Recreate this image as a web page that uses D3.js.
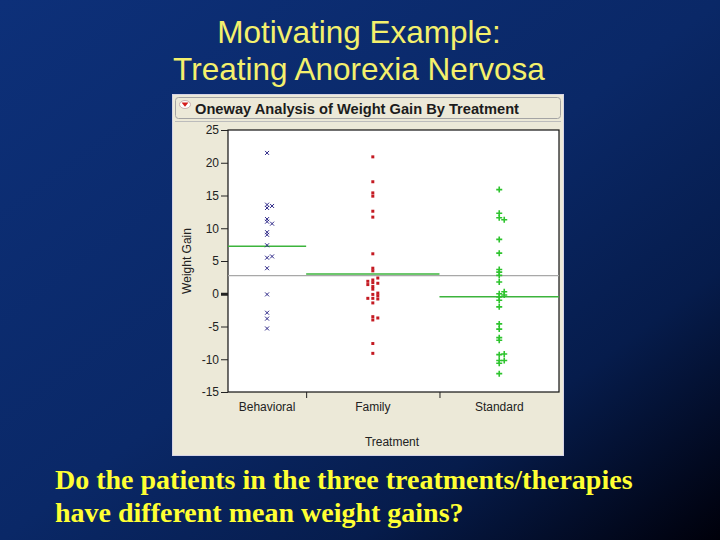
<!DOCTYPE html>
<html>
<head>
<meta charset="utf-8">
<script src="https://cdn.jsdelivr.net/npm/d3@7"></script>
<style>
  body { margin: 0; background: #000; }
  svg { display: block; }
</style>
</head>
<body>
<script>
// weight gain (lbs) per patient
var treatments = ["Behavioral", "Family", "Standard"];
var behavioralGain = [11.4, 11.0, 5.5, 9.4, 13.6, -2.9, -0.1, 7.4, 21.5, -5.3, -3.8, 13.4, 13.1, 9.0, 3.9, 5.7, 10.7];
var familyGain = [1.7, 0.7, -0.1, -0.7, -3.5, 14.9, 3.5, 17.1, -7.6, 1.6, 11.7, 6.1, 1.1, -4.0, 20.9, -9.1,
	2.1, -1.4, 1.4, -0.3, -3.7, -0.8, 2.4, 12.6, 1.9, 3.9, 0.1, 15.4, -0.7];
var standardGain = [-0.5, -9.3, -5.4, 12.3, -2.0, -10.2, -12.2, 11.6, -7.1, 6.2, -0.2, -9.2, 8.3, 3.3, 11.3, 0.0,
	-1.0, -10.6, -4.6, -6.7, 2.8, 0.3, 1.8, 3.7, 15.9, -10.2];
var yTicks = [-15, -10, -5, 0, 5, 10, 15, 20, 25];

var groups = [behavioralGain, familyGain, standardGain];
var W = 720, H = 540;

var svg = d3.select("body").append("svg")
	.attr("width", W)
	.attr("height", H);

// slide background
var grad = svg.append("defs").append("linearGradient")
	.attr("id", "bg")
	.attr("x1", "0%").attr("y1", "0%")
	.attr("x2", "100%").attr("y2", "100%");
grad.append("stop").attr("offset", 0).attr("stop-color", "#0d3079");
grad.append("stop").attr("offset", 0.5).attr("stop-color", "#0a2867");
grad.append("stop").attr("offset", 0.75).attr("stop-color", "#061c4c");
grad.append("stop").attr("offset", 1).attr("stop-color", "#00000a");
svg.append("rect").attr("width", W).attr("height", H).attr("fill", "url(#bg)");

// slide title
svg.append("g")
	.attr("font-family", "'Liberation Sans', Arial, sans-serif")
	.attr("font-size", 31.5)
	.attr("fill", "#f4f06c")
	.attr("text-anchor", "middle")
	.selectAll("text")
	.data(["Motivating Example:", "Treating Anorexia Nervosa"])
	.join("text")
		.attr("x", 359)
		.attr("y", function(d, i) { return 43 + i * 37; })
		.text(function(d) { return d; });

// JMP report panel
svg.append("rect")
	.attr("x", 172.5).attr("y", 94.5)
	.attr("width", 391).attr("height", 361)
	.attr("fill", "#ece9d8")
	.attr("stroke", "#d6d4e6");

svg.append("rect")
	.attr("x", 175.5).attr("y", 97.5)
	.attr("width", 385).attr("height", 21)
	.attr("rx", 3)
	.attr("fill", "#ece9d8")
	.attr("stroke", "#a4a4a4");
svg.append("line")
	.attr("x1", 175).attr("x2", 561)
	.attr("y1", 121.5).attr("y2", 121.5)
	.attr("stroke", "#bcbcbc");

// disclosure icon
svg.append("ellipse")
	.attr("cx", 185).attr("cy", 104.5)
	.attr("rx", 5.5).attr("ry", 4)
	.attr("fill", "#fff")
	.attr("stroke", "#c9b0b0");
svg.append("path")
	.attr("d", "M181.5,102.5L188.5,102.5L185,106.8Z")
	.attr("fill", "#d41c1c");

svg.append("text")
	.attr("x", 195).attr("y", 113.5)
	.attr("font-family", "'Liberation Sans', Arial, sans-serif")
	.attr("font-size", 14)
	.attr("font-weight", "bold")
	.attr("fill", "#1c1c1c")
	.attr("textLength", 324)
	.attr("lengthAdjust", "spacingAndGlyphs")
	.text("Oneway Analysis of Weight Gain By Treatment");

// plot area
var plotLeft = 228, plotRight = 559, plotTop = 130, plotBottom = 392;
var counts = groups.map(function(g) { return g.length; });
var total = d3.sum(counts);
var starts = [0];
counts.forEach(function(c, i) { starts.push(starts[i] + c); });

var x = d3.scaleLinear().domain([0, total]).range([plotLeft, plotRight]);
var y = d3.scaleLinear().domain([-15, 25]).range([plotBottom, plotTop]);

svg.append("rect")
	.attr("x", plotLeft).attr("y", plotTop)
	.attr("width", plotRight - plotLeft).attr("height", plotBottom - plotTop)
	.attr("fill", "#fff")
	.attr("stroke", "#111")
	.attr("stroke-width", 1.2);

var yAxis = svg.append("g")
	.attr("transform", "translate(" + plotLeft + ",0)")
	.call(d3.axisLeft(y).tickValues(yTicks).tickSize(7).tickPadding(2)
		.tickFormat(function(d) { return String(d); }));
yAxis.select(".domain").remove();
yAxis.selectAll(".tick line").attr("stroke", "#222");
yAxis.selectAll(".tick").filter(function(d) { return d === 0; })
	.select("line").attr("stroke-width", 3);
yAxis.selectAll("text")
	.attr("font-family", "'Liberation Sans', Arial, sans-serif")
	.attr("font-size", 12)
	.attr("fill", "#222");

var xAxis = svg.append("g")
	.attr("transform", "translate(0," + plotBottom + ")")
	.call(d3.axisBottom(x).tickValues(starts.slice(1, -1)).tickSize(6).tickFormat(""));
xAxis.select(".domain").remove();
xAxis.selectAll(".tick line").attr("stroke", "#222");

svg.append("g")
	.attr("font-family", "'Liberation Sans', Arial, sans-serif")
	.attr("font-size", 12)
	.attr("fill", "#222")
	.attr("text-anchor", "middle")
	.selectAll("text")
	.data(treatments)
	.join("text")
		.attr("x", function(d, i) { return x(starts[i] + counts[i] / 2); })
		.attr("y", 411)
		.text(function(d) { return d; });

svg.append("text")
	.attr("x", 392).attr("y", 446)
	.attr("font-family", "'Liberation Sans', Arial, sans-serif")
	.attr("font-size", 12)
	.attr("fill", "#222")
	.attr("text-anchor", "middle")
	.text("Treatment");

svg.append("text")
	.attr("transform", "translate(191,261) rotate(-90)")
	.attr("font-family", "'Liberation Sans', Arial, sans-serif")
	.attr("font-size", 12)
	.attr("fill", "#222")
	.attr("text-anchor", "middle")
	.text("Weight Gain");

// grand mean and group means
var grandMean = d3.mean(d3.merge(groups));
svg.append("line")
	.attr("x1", plotLeft).attr("x2", plotRight)
	.attr("y1", y(grandMean)).attr("y2", y(grandMean))
	.attr("stroke", "#a8a8a8")
	.attr("stroke-width", 1.2);

svg.append("g").selectAll("line")
	.data(groups)
	.join("line")
		.attr("x1", function(d, i) { return x(starts[i]); })
		.attr("x2", function(d, i) { return x(starts[i + 1]); })
		.attr("y1", function(d) { return y(d3.mean(d)); })
		.attr("y2", function(d) { return y(d3.mean(d)); })
		.attr("stroke", "#3cb43c")
		.attr("stroke-width", 1.5);

// simple dodge so tied values do not hide each other
function dodge(values, step, gap) {
	var lanes = [0, 1, -1, 2, -2];
	var placed = [];
	return values.map(function(v) {
		var py = y(v);
		for (var k = 0; k < lanes.length; k++) {
			var hit = placed.some(function(p) { return p.lane === lanes[k] && Math.abs(p.py - py) < gap; });
			if (!hit) break;
		}
		var lane = lanes[Math.min(k, lanes.length - 1)];
		placed.push({ lane: lane, py: py });
		return { value: v, dx: lane * step };
	});
}

var markers = [
	{ d: "M-2,-2L2,2M-2,2L2,-2", stroke: "#2e2888", width: 1, fill: "none" },
	{ d: "M-1.5,-1.5H1.5V1.5H-1.5Z", stroke: "none", width: 0, fill: "#c41a22" },
	{ d: "M-3,0H3M0,-3V3", stroke: "#2ec42e", width: 1.6, fill: "none" }
];

groups.forEach(function(g, i) {
	var cx = x(starts[i] + counts[i] / 2);
	var m = markers[i];
	svg.append("g").selectAll("path")
		.data(dodge(g, 5, 2))
		.join("path")
			.attr("transform", function(p) { return "translate(" + (cx + p.dx) + "," + y(p.value) + ")"; })
			.attr("d", m.d)
			.attr("fill", m.fill)
			.attr("stroke", m.stroke)
			.attr("stroke-width", m.width);
});

// question under the chart
svg.append("g")
	.attr("font-family", "'Liberation Serif', 'Times New Roman', serif")
	.attr("font-size", 28)
	.attr("font-weight", "bold")
	.attr("fill", "#ffff33")
	.selectAll("text")
	.data(["Do the patients in the three treatments/therapies", "have different mean weight gains?"])
	.join("text")
		.attr("x", 55)
		.attr("y", function(d, i) { return 489 + i * 33; })
		.text(function(d) { return d; });
</script>
</body>
</html>
